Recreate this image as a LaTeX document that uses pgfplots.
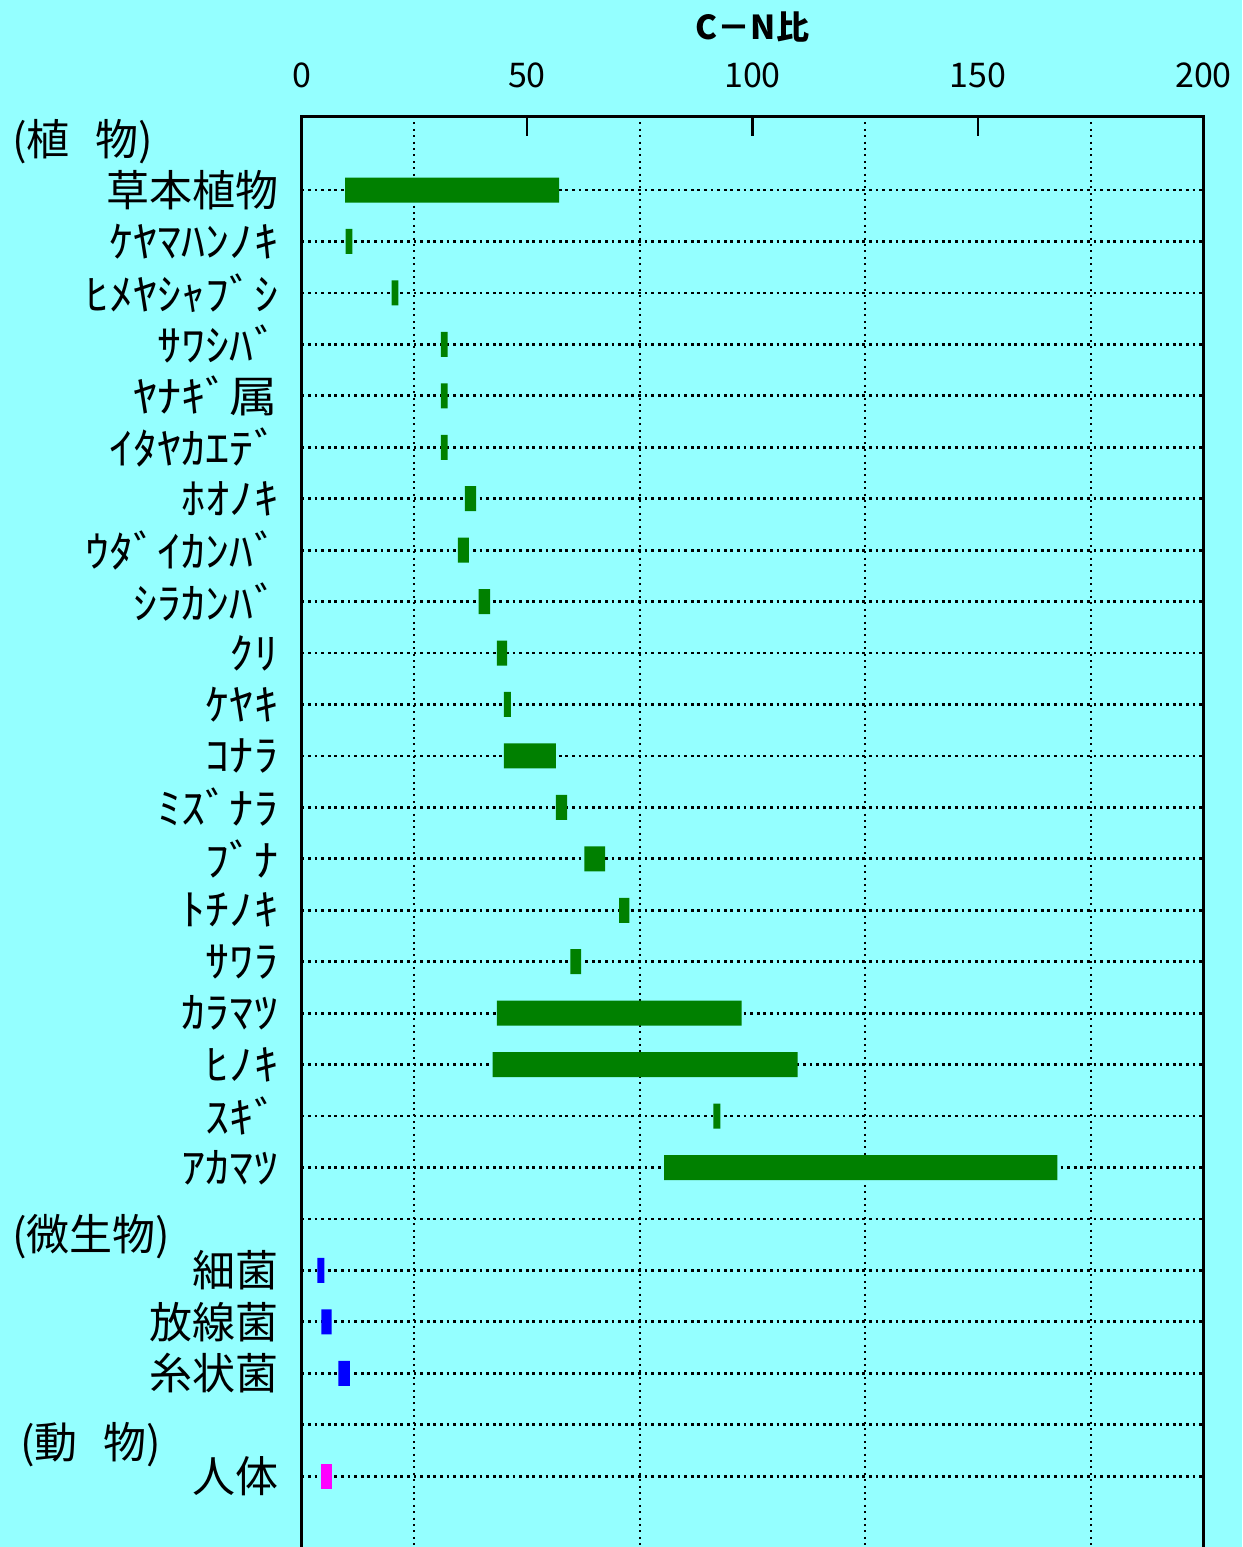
\documentclass[border=0pt]{standalone}
\usepackage{fontspec}
\setmainfont{Noto Sans CJK JP}
\newfontfamily\kana[FakeStretch=1.12]{Noto Sans CJK JP}
\usepackage{pgfplots}
\pgfplotsset{compat=1.18}
\usepackage{pgfplotstable}
\definecolor{bgcyan}{RGB}{148,255,255}
\definecolor{bargreen}{RGB}{0,128,0}
\definecolor{barblue}{RGB}{0,0,255}
\definecolor{barmag}{RGB}{255,0,255}

% row, start of range, length (plants / microbes / human)
\pgfplotstableread{
row start plant microbe human
1  9.7  47.4 0   0
2  9.8  1.5  0   0
3  20.0 1.5  0   0
4  30.9 1.5  0   0
5  30.9 1.5  0   0
6  30.9 1.5  0   0
7  36.2 2.5  0   0
8  34.7 2.4  0   0
9  39.3 2.5  0   0
10 43.3 2.3  0   0
11 44.9 1.5  0   0
12 44.9 11.5 0   0
13 56.4 2.5  0   0
14 62.7 4.6  0   0
15 70.4 2.3  0   0
16 59.6 2.4  0   0
17 43.3 54.3 0   0
18 42.4 67.6 0   0
19 91.3 1.6  0   0
20 80.4 87.2 0   0
22 3.5  0    1.6 0
23 4.4  0    2.3 0
24 8.2  0    2.5 0
26 4.4  0    0   2.3
}\cndata

\begin{document}
\begin{tikzpicture}
\fill[bgcyan] (-150.75pt,-715.5pt) rectangle (470.25pt,58pt);
\begin{axis}[
  at={(0,0)}, anchor=north west,
  width=451pt, height=722pt, scale only axis,
  xmin=0, xmax=200, ymin=-0.4386, ymax=27.63, y dir=reverse,
  xbar stacked, bar width=0.486, stacked ignores zero,
  clip=false,
  axis line style={black, line width=1.5pt},
  xtick={0,50,100,150,200},
  xtick pos=right, xticklabel pos=right,
  xtick align=inside, major tick length=10pt,
  x tick style={black, line width=1.2pt},
  minor xtick={25,75,125,175}, minor tick length=0pt,
  xminorgrids=true,
  minor grid style={black, line width=1.1pt, dash pattern=on 1pt off 2.2pt},
  /pgf/number format/assume math mode=true,
  xticklabel style={font=\fontsize{17}{20}\selectfont, inner sep=0pt, yshift=14pt},
  ytick={1,...,26},
  yticklabels={草本植物, {\kana ｹﾔﾏﾊﾝﾉｷ}, {\kana ﾋﾒﾔｼｬﾌﾞｼ}, {\kana ｻﾜｼﾊﾞ}, {\kana ﾔﾅｷﾞ属}, {\kana ｲﾀﾔｶｴﾃﾞ}, {\kana ﾎｵﾉｷ}, {\kana ｳﾀﾞｲｶﾝﾊﾞ}, {\kana ｼﾗｶﾝﾊﾞ}, {\kana ｸﾘ}, {\kana ｹﾔｷ}, {\kana ｺﾅﾗ}, {\kana ﾐｽﾞﾅﾗ}, {\kana ﾌﾞﾅ}, {\kana ﾄﾁﾉｷ}, {\kana ｻﾜﾗ}, {\kana ｶﾗﾏﾂ}, {\kana ﾋﾉｷ}, {\kana ｽｷﾞ}, {\kana ｱｶﾏﾂ}, {}, 細菌, 放線菌, 糸状菌, {}, 人体},
  ytick style={draw=none},
  yticklabel style={font=\fontsize{21.5}{24}\selectfont, anchor=east, inner sep=0pt, xshift=-11.5pt},
  ymajorgrids=true,
  major grid style={black, line width=1.4pt, dash pattern=on 1.4pt off 1.9pt},
  title={C－N比},
  title style={font=\bfseries\fontsize{16.5}{19}\selectfont, at={(0.5,1)}, anchor=center, yshift=38.5pt},
]
\addplot[draw=none, fill=none] table[x=start, y=row] {\cndata};
\addplot[draw=none, fill=bargreen] table[x=plant, y=row] {\cndata};
\addplot[draw=none, fill=barblue] table[x=microbe, y=row] {\cndata};
\addplot[draw=none, fill=barmag] table[x=human, y=row] {\cndata};
\node[anchor=west, inner sep=0pt, font=\fontsize{21.5}{24}\selectfont] at ([xshift=-144.75pt]axis cs:0,0.05) {(植\hspace{0.6em}物)};
\node[anchor=west, inner sep=0pt, font=\fontsize{21.5}{24}\selectfont] at ([xshift=-144.75pt]axis cs:0,21.35) {(微生物)};
\node[anchor=west, inner sep=0pt, font=\fontsize{21.5}{24}\selectfont] at ([xshift=-140.75pt]axis cs:0,25.38) {(動\hspace{0.6em}物)};
\end{axis}
\pgfresetboundingbox
\useasboundingbox (-150.75pt,-715.5pt) rectangle (470.25pt,58pt);
\end{tikzpicture}
\end{document}
